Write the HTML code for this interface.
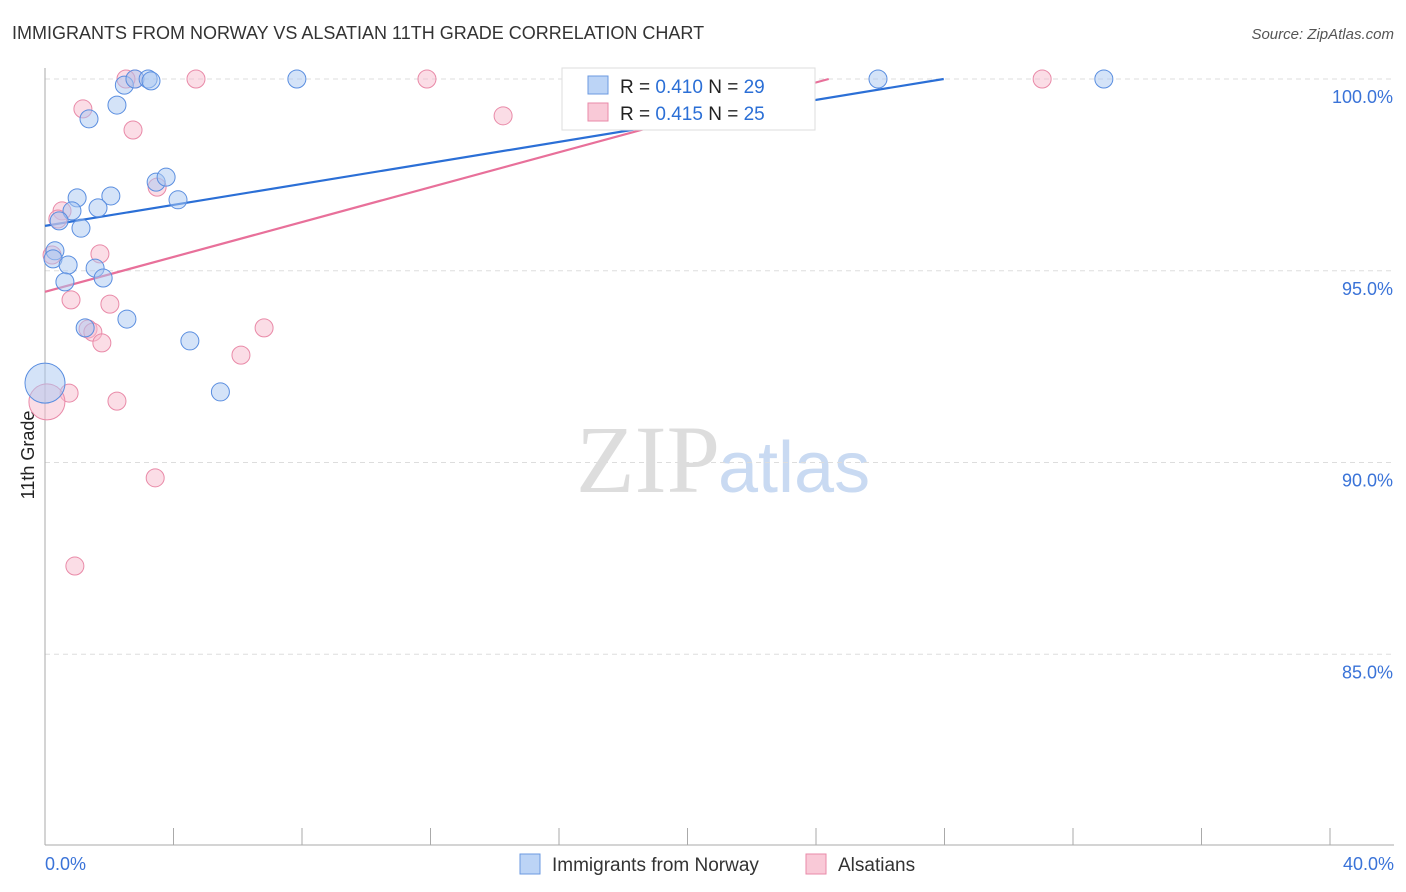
<!DOCTYPE html>
<html><head><meta charset="utf-8"><style>
body{margin:0;background:#fff;font-family:"Liberation Sans",sans-serif;}
svg{display:block}
</style></head><body>
<svg id="chart" width="1406" height="892">
<text x="12" y="39" font-size="18" fill="#333">IMMIGRANTS FROM NORWAY VS ALSATIAN 11TH GRADE CORRELATION CHART</text>
<text x="1394" y="39" font-size="15" fill="#555" font-style="italic" text-anchor="end">Source: ZipAtlas.com</text>
<text x="720" y="492" font-size="96" fill="#ddd" font-family="Liberation Serif" text-anchor="end">ZIP</text>
<text x="718" y="492" font-size="72" fill="#c9daf2">atlas</text>
<text transform="translate(34,455) rotate(-90)" font-size="18" fill="#222" text-anchor="middle">11th Grade</text>
<g id="grid"></g><g id="lines"></g><g id="points"></g>
<g>
<rect x="562" y="68" width="253" height="62" fill="#fff" stroke="#ddd"/>
<rect x="588" y="76" width="20" height="18" fill="#bcd4f6" stroke="#6b9ae0"/>
<text x="620" y="93" font-size="19" fill="#222">R = <tspan fill="#2b6fd6">0.410</tspan>   N = <tspan fill="#2b6fd6">29</tspan></text>
<rect x="588" y="103" width="20" height="18" fill="#f9c9d7" stroke="#e98aa8"/>
<text x="620" y="120" font-size="19" fill="#222">R = <tspan fill="#2b6fd6">0.415</tspan>   N = <tspan fill="#2b6fd6">25</tspan></text>
</g>
<g>
<rect x="520" y="854" width="20" height="20" fill="#bcd4f6" stroke="#6b9ae0"/>
<text x="552" y="871" font-size="19" fill="#333">Immigrants from Norway</text>
<rect x="806" y="854" width="20" height="20" fill="#f9c9d7" stroke="#e98aa8"/>
<text x="838" y="871" font-size="19" fill="#333">Alsatians</text>
</g>
</svg>
<script>
const yTicks=[100,95,90,85];
const xTickLabels=["0.0%","40.0%"];
const blueX=[2.47,2.8,3.21,3.3,7.84,25.93,32.96,2.24,1.37,3.46,3.77,2.05,1.0,1.65,4.14,0.84,0.44,1.12,0.31,0.25,0.72,1.56,1.81,0.62,1.25,2.55,4.51,5.46,0.0];
const blueY=[99.84,100,100,99.95,100,100,100,99.32,98.96,97.31,97.44,96.95,96.9,96.64,96.85,96.56,96.3,96.11,95.52,95.31,95.15,95.07,94.81,94.71,93.51,93.74,93.17,91.84,92.07];
const blueR=[9,9,9,9,9,9,9,9,9,9,9,9,9,9,9,9,9,9,9,9,9,9,9,9,9,9,9,9,20];
const pinkX=[2.8,2.52,4.7,11.89,31.04,1.18,2.74,14.26,3.49,0.53,0.4,1.71,0.22,0.81,2.02,6.82,1.34,1.49,1.77,6.1,0.75,2.24,0.06,3.43,0.93];
const pinkY=[100,100,100,100,100,99.22,98.67,99.04,97.18,96.56,96.35,95.44,95.41,94.24,94.13,93.51,93.48,93.4,93.12,92.8,91.81,91.6,91.58,89.6,87.3];
const pinkR=[9,9,9,9,9,9,9,9,9,9,9,9,9,9,9,9,9,9,18,9,9,9,18,9,9];
pinkR[18]=9;
const blueLine=[96.17,0.1369];
const pinkLine=[94.45,0.2275];
const X=v=>45+v*32.125, Y=v=>79+(100-v)*38.35;
const NS="http://www.w3.org/2000/svg";
function mk(tag,attrs,parent){const e=document.createElementNS(NS,tag);for(const k in attrs)e.setAttribute(k,attrs[k]);document.getElementById(parent).appendChild(e);return e;}
yTicks.forEach(t=>{
 const l=mk('line',{x1:45,x2:1394,y1:Y(t),y2:Y(t),stroke:'#ddd','stroke-dasharray':'5,4'},'grid');
 
 
 const tx=mk('text',{x:1393,y:Y(t)+24,'font-size':18,fill:'#3a73d8','text-anchor':'end'},'grid');
 tx.textContent=t.toFixed(1)+'%';
 
 
});
const ax=mk('line',{x1:45,x2:45,y1:68,y2:845,stroke:'#aaa'},'grid');


const bx=mk('line',{x1:45,x2:1394,y1:845,y2:845,stroke:'#aaa'},'grid');


for(let i=0;i<=10;i++){const t=mk('line',{x1:X(i*4),x2:X(i*4),y1:828,y2:845,stroke:'#aaa'},'grid');
 
 }
[[0,45,'start'],[1,1394,'end']].forEach(([i,x,a])=>{const t=mk('text',{x:x,y:870,'font-size':18,fill:'#3a73d8','text-anchor':a},'grid');t.textContent=xTickLabels[i];
 
 });
function line(p,col,name){const xe=Math.min(40,(100-p[0])/p[1]);
 const l=mk('line',{x1:X(0),y1:Y(p[0]),x2:X(xe),y2:Y(p[0]+p[1]*xe),stroke:col,'stroke-width':2.2},'lines');
 
 }
function pts(xs,ys,rs,fill,stroke,name){xs.forEach((x,i)=>{const c=mk('circle',{cx:X(x),cy:Y(ys[i]),r:rs[i],fill:fill,'fill-opacity':0.5,stroke:stroke,'stroke-width':1},'points');
 
 });}
pts(pinkX,pinkY,pinkR.map((r,i)=>i==22?18:r),'#f7bccd','#e98aa8','alsatians-point');
pts(blueX,blueY,blueR,'#a9c8f2','#5a8ee0','norway-point');
line(blueLine,'#2b6fd6','norway-trend-line');
line(pinkLine,'#e8709a','alsatians-trend-line');
</script>
</body></html>
